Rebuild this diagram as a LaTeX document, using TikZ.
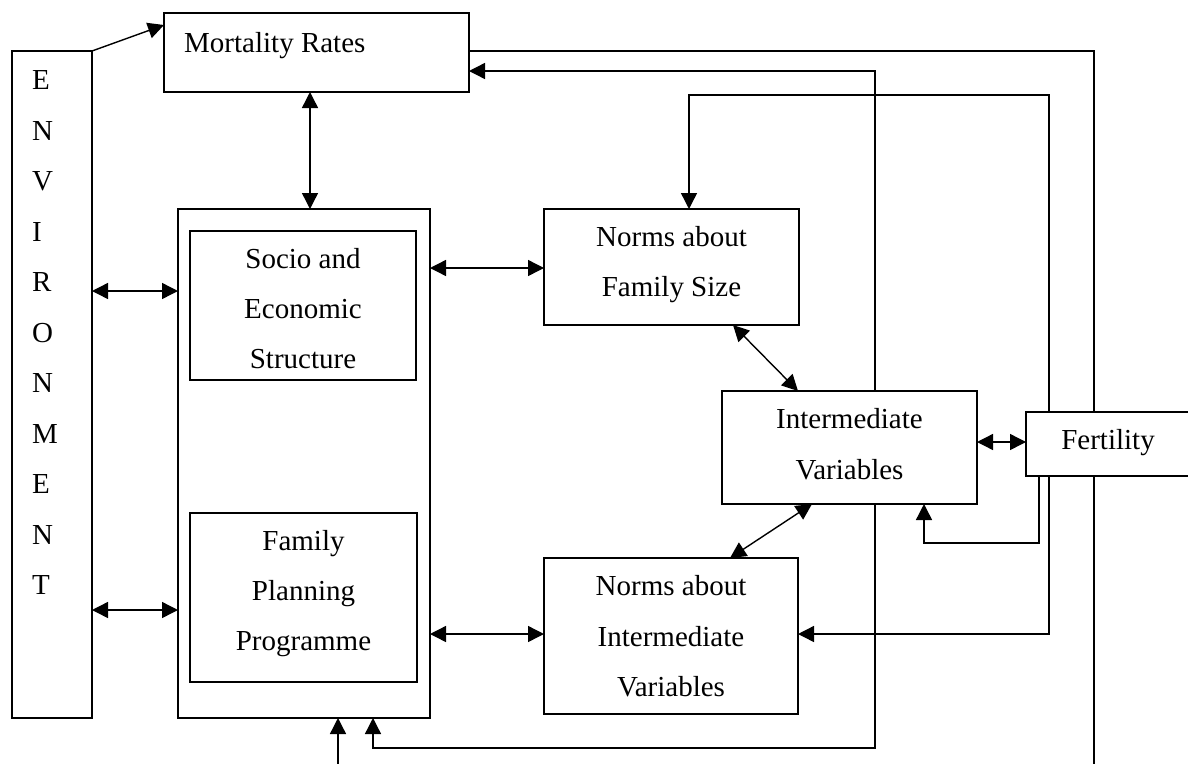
\documentclass[tikz,border=0pt]{standalone}
\usepackage{fontspec}
\setmainfont{Liberation Serif}
\usetikzlibrary{arrows.meta}
\tikzset{
  box/.style={draw, line width=1.4pt, inner sep=0pt, outer sep=0pt, fill=white},
  txt/.style={font=\fontsize{29}{50.3}\selectfont, align=center, inner sep=0pt},
  conn/.style={line width=1.4pt},
  arr/.style={conn, -{Triangle[length=16pt,width=16pt]}},
  dbl/.style={conn, {Triangle[length=16pt,width=16pt]}-{Triangle[length=16pt,width=16pt]}},
}
\begin{document}
\begin{tikzpicture}[x=1pt, y=-1pt]
\useasboundingbox (0,0) rectangle (1188,763);
% boxes
\node[box, minimum width=80pt, minimum height=667pt] (env) at (52,384.5) {};
\node[box, minimum width=305pt, minimum height=79pt] (mort) at (316.5,52.5) {};
\node[box, minimum width=252pt, minimum height=509pt] (big) at (304,463.5) {};
\node[box, minimum width=226pt, minimum height=149pt] (socio) at (303,305.5) {};
\node[box, minimum width=227pt, minimum height=169pt] (fp) at (303.5,597.5) {};
\node[box, minimum width=255pt, minimum height=116pt] (nfs) at (671.5,267) {};
\node[box, minimum width=255pt, minimum height=113pt] (inter) at (849.5,447.5) {};
\node[box, minimum width=254pt, minimum height=156pt] (niv) at (671,636) {};
\node[box, minimum width=164pt, minimum height=64pt] (fert) at (1108,444) {};
% texts
\node[font=\fontsize{29}{50.5}\selectfont, align=left, inner sep=0pt, anchor=west] (envT) at (32,332.5) {E\\N\\V\\I\\R\\O\\N\\M\\E\\N\\T};
\node[txt, anchor=base west] (mortT) at (184,52) {Mortality Rates};
\node[txt] (socioT) at (303,308.7) {Socio and\\Economic\\Structure};
\node[txt] (fpT) at (303.5,593.7) {Family\\Planning\\Programme};
\node[txt] (nfsT) at (671.5,264.4) {Norms about\\Family Size};
\node[txt] (interT) at (849.5,444.2) {Intermediate\\Variables};
\node[txt] (nivT) at (671,636.2) {Norms about\\Intermediate\\Variables};
\node[txt] (fertT) at (1108,442.4) {Fertility};
% free ends
\coordinate (freeB) at (338,775);
\coordinate (freeR) at (1094,775);
% connectors
\draw[arr] (env.north east) -- (mort.west |- 0,25);
\draw[dbl] (mort.south -| 310,0) -- (big.north -| 310,0);
\draw[dbl] (env.east |- 0,291) -- (big.west |- 0,291);
\draw[dbl] (env.east |- 0,610) -- (big.west |- 0,610);
\draw[dbl] (big.east |- 0,268) -- (nfs.west |- 0,268);
\draw[dbl] (big.east |- 0,634) -- (niv.west |- 0,634);
\draw[dbl] (nfs.south -| 733,0) -- (inter.north -| 798,0);
\draw[dbl] (inter.south -| 812,0) -- (niv.north -| 730,0);
\draw[dbl] (inter.east |- 0,442) -- (fert.west |- 0,442);
\draw[arr] (inter.north -| 875,0) |- (mort.east |- 0,71);
\draw[arr] (inter.south -| 875,0) -- (875,748) -| (big.south -| 373,0);
\draw[arr] (freeB) -- (big.south -| 338,0);
\draw[conn] (mort.east |- 0,51) -| (fert.north -| 1094,0);
\draw[conn] (fert.south -| 1094,0) -- (freeR);
\draw[arr] (fert.north -| 1049,0) -- (1049,95) -| (nfs.north -| 689,0);
\draw[arr] (fert.south -| 1049,0) |- (niv.east |- 0,634);
\draw[arr] (fert.south -| 1039,0) -- (1039,543) -| (inter.south -| 924,0);
\end{tikzpicture}
\end{document}
